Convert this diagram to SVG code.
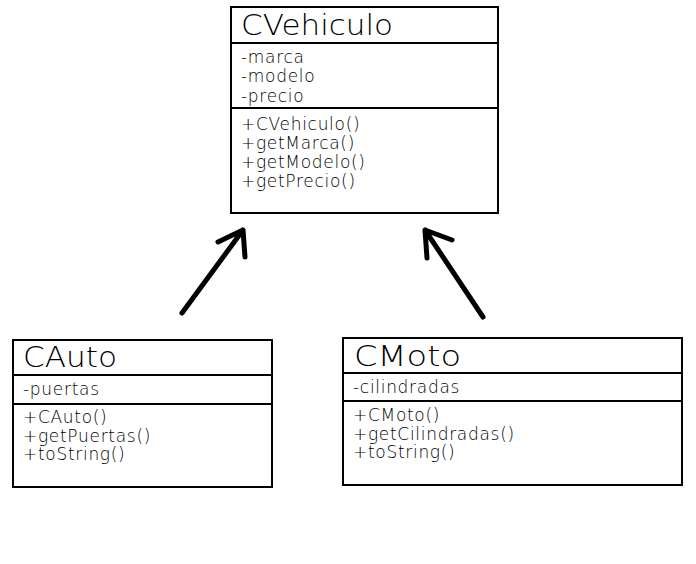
<svg xmlns="http://www.w3.org/2000/svg" width="696" height="564" viewBox="0 0 696 564">
<style>
.box{fill:#fff;stroke:#000;stroke-width:2}
.div{stroke:#000;stroke-width:2}
.title{font-family:"DejaVu Sans","Liberation Sans",sans-serif;font-size:29px;font-weight:200;fill:#000}
.t{font-family:"DejaVu Sans","Liberation Sans",sans-serif;font-size:17px;font-weight:200;fill:#000;letter-spacing:0.7px}
.arr{fill:none;stroke:#000;stroke-width:5;stroke-linecap:round;stroke-linejoin:round}
</style>
<rect width="696" height="564" fill="#fff"/>
<g id="CVehiculo">
<rect class="box" x="231" y="7" width="267" height="206"/>
<line class="div" x1="231" y1="43" x2="498" y2="43"/>
<line class="div" x1="231" y1="108" x2="498" y2="108"/>
<text class="title" x="241" y="35" textLength="152" lengthAdjust="spacingAndGlyphs">CVehiculo</text>
<text class="t" x="241" y="63">-marca</text>
<text class="t" x="241" y="82">-modelo</text>
<text class="t" x="241" y="102">-precio</text>
<text class="t" x="241" y="130">+CVehiculo()</text>
<text class="t" x="241" y="149">+getMarca()</text>
<text class="t" x="241" y="168">+getModelo()</text>
<text class="t" x="241" y="187">+getPrecio()</text>
</g>
<g id="CAuto">
<rect class="box" x="13" y="340" width="259" height="147"/>
<line class="div" x1="13" y1="375" x2="272" y2="375"/>
<line class="div" x1="13" y1="404" x2="272" y2="404"/>
<text class="title" x="23" y="367" textLength="94" lengthAdjust="spacingAndGlyphs">CAuto</text>
<text class="t" x="23" y="395">-puertas</text>
<text class="t" x="23" y="423">+CAuto()</text>
<text class="t" x="23" y="441.5">+getPuertas()</text>
<text class="t" x="23" y="460">+toString()</text>
</g>
<g id="CMoto">
<rect class="box" x="343" y="338" width="339" height="147"/>
<line class="div" x1="343" y1="373" x2="682" y2="373"/>
<line class="div" x1="343" y1="401" x2="682" y2="401"/>
<text class="title" x="354" y="366" textLength="107" lengthAdjust="spacingAndGlyphs">CMoto</text>
<text class="t" x="353" y="393">-cilindradas</text>
<text class="t" x="353" y="421">+CMoto()</text>
<text class="t" x="353" y="439.5">+getCilindradas()</text>
<text class="t" x="353" y="458">+toString()</text>
</g>
<g id="connectors">
<path class="arr" d="M182 313 L243 230 M218 242 L243 230 L245 257"/>
<path class="arr" d="M483 317 L425 230 M452 240 L425 230 L427 258"/>
</g>
</svg>
